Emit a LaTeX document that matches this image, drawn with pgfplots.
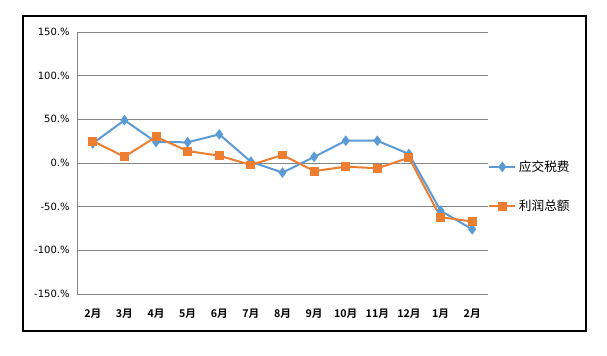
\documentclass[border=0pt]{standalone}
\usepackage{pgfplots}
\pgfplotsset{compat=1.18}
\usepackage{fontspec}
\setmainfont{DejaVu Sans}
\newfontfamily\cjk{Noto Sans CJK SC}
\newfontfamily\cjkb{Noto Sans CJK SC Bold}
\definecolor{sblue}{HTML}{5B9BD5}
\definecolor{sorange}{HTML}{ED7D31}
\definecolor{gridgray}{HTML}{868686}
\begin{document}
\begin{tikzpicture}
\path[use as bounding box] (0pt,0pt) rectangle (455.25pt,266.25pt);
\draw[black, line width=0.8pt] (17.25pt,18pt) rectangle (439.5pt,254.25pt);
\begin{axis}[
  at={(57.75pt,45.75pt)}, anchor=south west,
  scale only axis, width=308.25pt, height=196.5pt,
  xmin=-0.5, xmax=12.5, ymin=-150, ymax=150,
  xtick={0,...,12},
  xticklabels={2月,3月,4月,5月,6月,7月,8月,9月,10月,11月,12月,1月,2月},
  ytick={-150,-100,-50,0,50,100,150},
  yticklabels={-150.\%,-100.\%,-50.\%,0.\%,50.\%,100.\%,150.\%},
  xticklabel style={font=\cjkb\fontsize{8}{9}\selectfont, anchor=center, yshift=-15pt},
  yticklabel style={font=\fontsize{7.5}{9}\selectfont, xshift=-2pt},
  major tick length=0pt,
  axis lines*=left,
  axis line style={-, draw=gridgray, line width=0.75pt},
  ymajorgrids,
  grid style={draw=gridgray, line width=0.75pt},
  clip=false,
  legend style={at={(1.0,0.41)}, anchor=west, draw=none, fill=none,
    font=\cjk\fontsize{9.5}{11}\selectfont, row sep=16pt, inner sep=0pt},
  legend cell align=left,
  legend image code/.code={\draw[mark repeat=2,mark phase=2] plot coordinates {(0pt,0pt)(9.75pt,0pt)(19.5pt,0pt)};},
]
\addplot[color=sblue, line width=1.5pt, mark=diamond*, mark size=2.8pt, mark options={solid, fill=sblue}]
coordinates {(0,22.5)(1,49)(2,24)(3,23.7)(4,32.8)(5,1.5)(6,-11)(7,7)(8,25.5)(9,25.5)(10,10.3)(11,-54.6)(12,-75.9)};
\addlegendentry{应交税费}
\addplot[color=sorange, line width=1.5pt, mark=square*, mark size=2.6pt, mark options={solid, fill=sorange}]
coordinates {(0,25)(1,7.2)(2,30)(3,13.7)(4,8.4)(5,-2.3)(6,9.2)(7,-9.2)(8,-4.2)(9,-6)(10,6)(11,-62)(12,-67)};
\addlegendentry{利润总额}
\end{axis}
\end{tikzpicture}
\end{document}
